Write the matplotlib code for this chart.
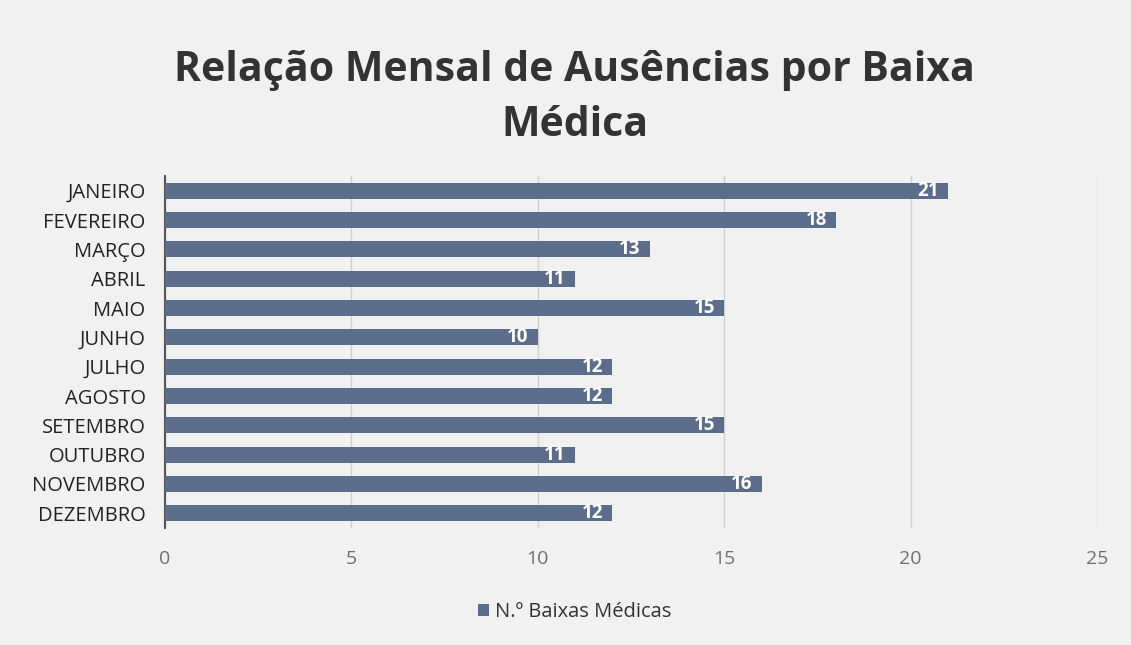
import matplotlib
matplotlib.use("Agg")
import matplotlib.pyplot as plt

months = ["JANEIRO", "FEVEREIRO", "MARÇO", "ABRIL", "MAIO", "JUNHO", "JULHO",
          "AGOSTO", "SETEMBRO", "OUTUBRO", "NOVEMBRO", "DEZEMBRO"]
values = [21, 18, 13, 11, 15, 10, 12, 12, 15, 11, 16, 12]
xticks = [0, 5, 10, 15, 20, 25]
series_name = "N.º Baixas Médicas"
title = "Relação Mensal de Ausências por Baixa\nMédica"

plt.rcParams['font.family'] = ['Open Sans', 'DejaVu Sans']

fig = plt.figure(figsize=(11.31, 6.45), dpi=100)
fig.patch.set_facecolor('#f1f1f1')
ax = fig.add_axes([0.1459, 0.1814, 0.8241, 0.5457])
ax.set_facecolor('none')

bar_color = '#5c6d8c'
pos = list(range(len(months)))
bars = ax.barh(pos, values, height=0.55, color=bar_color, label=series_name, zorder=3)
ax.set_ylim(len(months) - 0.5, -0.5)
ax.set_xlim(0, 25)
ax.set_xticks(xticks)
ax.set_xticklabels([str(t) for t in xticks], color='#707070', fontsize=14)
ax.set_yticks(pos)
ax.set_yticklabels(months, fontsize=14.5, color='#222222')
ax.tick_params(axis='both', length=0)
ax.tick_params(axis='x', pad=16)
ax.tick_params(axis='y', pad=14)
ax.grid(axis='x', color='#cfcfcf', linewidth=1, zorder=0)
for s in ['top', 'right', 'bottom']:
    ax.spines[s].set_visible(False)
ax.spines['left'].set_color('#555555')
ax.spines['left'].set_linewidth(1.5)

for b, v in zip(bars, values):
    ax.text(v - 0.25, b.get_y() + b.get_height() / 2, str(v), ha='right', va='center',
            color='white', fontsize=13.5, fontweight='bold', zorder=4)

fig.text(0.508, 0.848, title, ha='center', va='center', fontsize=29.5,
         fontweight='bold', color='#333333', linespacing=1.45)

leg = fig.legend(handles=[bars], labels=[series_name], loc='center',
                 bbox_to_anchor=(0.508, 0.051), frameon=False, fontsize=14.5,
                 handlelength=0.55, handleheight=0.55, handletextpad=0.3)
for t in leg.get_texts():
    t.set_color('#333333')

fig.savefig('out.png', dpi=100, facecolor=fig.get_facecolor())
